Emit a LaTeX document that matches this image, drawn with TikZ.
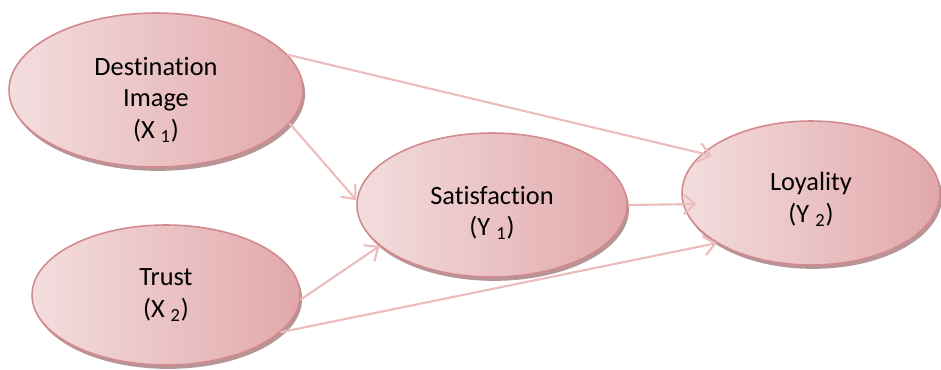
\documentclass[tikz,border=0pt]{standalone}
\usepackage{fontspec}
\setmainfont{Carlito}[Ligatures=NoCommon]
\usetikzlibrary{arrows.meta,shapes.geometric,shadows}
\definecolor{roseline}{HTML}{D38A8E}
\definecolor{roselight}{HTML}{F3DDDE}
\definecolor{rosedark}{HTML}{E2A8AB}
\definecolor{roseshadow}{HTML}{A88284}
\definecolor{roselink}{HTML}{ECBBBC}
% extra room above the first line, pushes the text block down
\newcommand{\padtop}[2]{\raisebox{0pt}[\dimexpr\height+#1\relax][\depth]{#2}}

\begin{document}
\begin{tikzpicture}[x=0.02cm,y=-0.02cm,
    latent/.style={ellipse,draw=roseline,line width=0.9pt,inner sep=0pt,
        left color=roselight,right color=rosedark,
        drop shadow={shadow xshift=1.2pt,shadow yshift=-2.2pt,fill=roseshadow,opacity=0.85},
        font=\fontsize{15}{18}\selectfont,align=center},
    link/.style={-{Straight Barb[length=6.5pt,width=11pt]},line width=1.2pt,draw=roselink}
]
\useasboundingbox (0,0) rectangle (941,369);

\node[latent,minimum width=5.88cm,minimum height=3.08cm] (dest) at (156,90) {\padtop{11pt}{Destination}\\Image\\(X \textsubscript{1})};
\node[latent,minimum width=5.36cm,minimum height=2.8cm] (trust) at (166,295) {Trust\\(X \textsubscript{2})};
\node[latent,minimum width=5.4cm,minimum height=2.88cm] (sat) at (492,205) {\padtop{9pt}{Satisfaction}\\(Y \textsubscript{1})};
\node[latent,minimum width=5.16cm,minimum height=2.88cm] (loy) at (811,193) {\padtop{7pt}{Loyality}\\(Y \textsubscript{2})};

% paths
\draw[link,shorten >=-0.2cm] (dest.15) -- (loy.160);
\draw[link] (dest.-14) -- (sat.178);
\draw[link] (trust.-2) -- (sat.200);
\draw[link] (trust.-18) -- (loy.208);
\draw[link,shorten >=-0.28cm] (sat.0) -- (loy.185);
\end{tikzpicture}
\end{document}
